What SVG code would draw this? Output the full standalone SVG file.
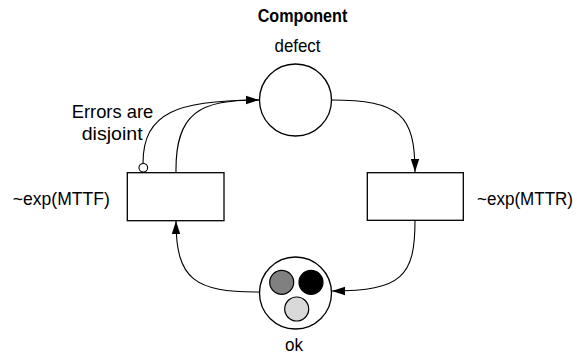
<svg xmlns="http://www.w3.org/2000/svg" width="577" height="358" viewBox="0 0 577 358">
  <style>
    .lbl { font-family: "Liberation Sans", Arial, sans-serif; font-size: 19px; fill: #000; }
    .bold { font-weight: bold; font-size: 18px; }
    .edge { font-size: 17.5px; }
    .place { fill: #fff; stroke: #000; stroke-width: 1.3; }
    .trans { fill: #fff; stroke: #000; stroke-width: 1.3; }
    .token { stroke: #000; stroke-width: 1.2; }
    .arc { fill: none; stroke: #000; stroke-width: 1.1; }
  </style>
  <defs>
    <marker id="arrow" markerUnits="userSpaceOnUse" markerWidth="14" markerHeight="10" refX="13" refY="5" orient="auto">
      <path d="M0,0.8 L13,5 L0,9.2 Z" fill="#000"/>
    </marker>
  </defs>

  <rect width="577" height="358" fill="#fff"/>

  <!-- title -->
  <text class="lbl bold" x="302.5" y="21.5" text-anchor="middle" textLength="89.6" lengthAdjust="spacingAndGlyphs">Component</text>

  <!-- connectors -->
  <g id="connectors">
    <path class="arc" d="M176,173 C175,112 200,100 259,100" marker-end="url(#arrow)"/>
    <path class="arc" d="M143,163.5 C143,112 178,100 259,100"/>
    <path class="arc" d="M331,100 C400,100 415,115 415,172" marker-end="url(#arrow)"/>
    <path class="arc" d="M415,221 C415,276 402,291 332,291" marker-end="url(#arrow)"/>
    <path class="arc" d="M259,292 C195,292 176,280 176,221" marker-end="url(#arrow)"/>
    <!-- inhibitor end -->
    <circle cx="143.3" cy="167.8" r="4.3" fill="#fff" stroke="#000" stroke-width="1.1"/>
  </g>

  <!-- place: defect -->
  <g id="defect">
    <circle class="place" cx="295.5" cy="100" r="36"/>
    <text class="lbl" x="297.5" y="52" text-anchor="middle" textLength="46" lengthAdjust="spacingAndGlyphs">defect</text>
  </g>

  <!-- place: ok, with three tokens -->
  <g id="ok">
    <circle class="place" cx="295.5" cy="293" r="36"/>
    <circle class="token" cx="281.7" cy="282.3" r="12" fill="#808080"/>
    <circle class="token" cx="311" cy="282.3" r="12" fill="#000"/>
    <circle class="token" cx="296.7" cy="309" r="12" fill="#d9d9d9"/>
    <text class="lbl" x="294" y="351" text-anchor="middle" textLength="18" lengthAdjust="spacingAndGlyphs">ok</text>
  </g>

  <!-- transition: failure -->
  <g id="fail">
    <rect class="trans" x="127.3" y="172.7" width="96.7" height="48"/>
    <text class="lbl" x="61.3" y="204.5" text-anchor="middle" textLength="97" lengthAdjust="spacingAndGlyphs">~exp(MTTF)</text>
    <text class="lbl" x="112.5" y="117.5" text-anchor="middle" textLength="81.6" lengthAdjust="spacingAndGlyphs">Errors are</text>
    <text class="lbl" x="112.2" y="140" text-anchor="middle" textLength="61" lengthAdjust="spacingAndGlyphs">disjoint</text>
  </g>

  <!-- transition: repair -->
  <g id="repair">
    <rect class="trans" x="367.3" y="172.7" width="96" height="47.6"/>
    <text class="lbl edge" x="525" y="204.5" text-anchor="middle" textLength="96" lengthAdjust="spacingAndGlyphs">~exp(MTTR)</text>
  </g>
</svg>
